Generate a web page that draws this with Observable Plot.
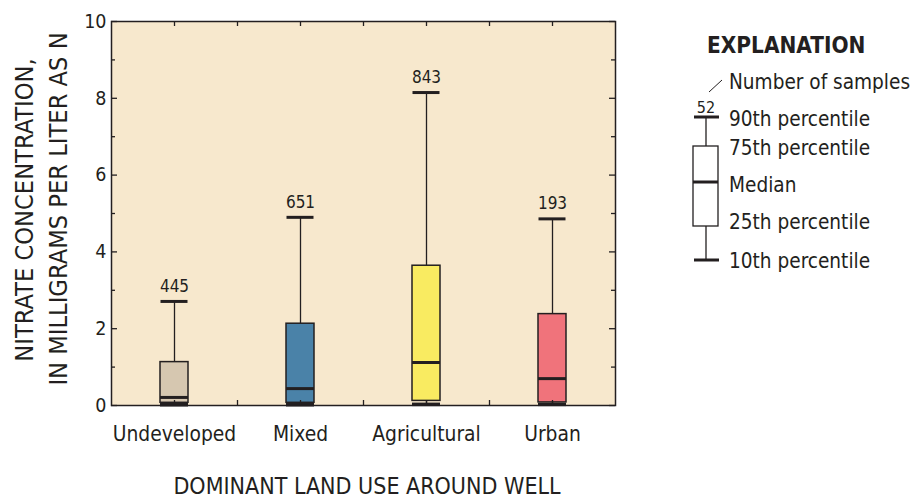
<!DOCTYPE html>
<html>
<head>
<meta charset="utf-8">
<script src="https://cdn.jsdelivr.net/npm/d3@7"></script>
<script src="https://cdn.jsdelivr.net/npm/@observablehq/plot@0.6"></script>
<style>
  html, body { margin: 0; padding: 0; background: #ffffff; }
  #chart svg { display: block; }
</style>
</head>
<body>
<div id="chart"></div>
<script>
// ---- Data ----
const categories = ["Undeveloped", "Mixed", "Agricultural", "Urban"];
const p10    = [0.02, 0.02, 0.03, 0.03];
const p25    = [0.07, 0.07, 0.12, 0.08];
const median = [0.21, 0.44, 1.12, 0.70];
const p75    = [1.13, 2.13, 3.64, 2.38];
const p90    = [2.71, 4.90, 8.15, 4.86];
const counts = [445, 651, 843, 193];
const boxColors = ["#D6C7B0", "#4A82A8", "#F9EB61", "#F0737B"];
const yMajorTicks = [0, 2, 4, 6, 8, 10];
const yMinorTicks = [1, 3, 5, 7, 9];
const legendLabels = ["Number of samples", "90th percentile", "75th percentile", "Median", "25th percentile", "10th percentile"];
const legendCount = "52";

const rows = categories.map((c, i) => ({
  cat: c, p10: p10[i], p25: p25[i], med: median[i], p75: p75[i], p90: p90[i], n: counts[i], color: boxColors[i]
}));

const W = 915, H = 499;
const mL = 111, mR = 300, mT = 21, mB = 94;
const innerW = W - mL - mR, innerH = H - mT - mB;
const band = innerW / categories.length;
const ink = "#231F20";
const FONT = "'DejaVu Sans Condensed', 'DejaVu Sans', sans-serif";
const boxInset = (band - 28) / 2;
const capInset = (band - 27) / 2;

const svg = Plot.plot({
  width: W, height: H,
  marginLeft: mL, marginRight: mR, marginTop: mT, marginBottom: mB,
  style: { fontFamily: FONT, background: "transparent", color: ink, overflow: "visible" },
  x: { domain: categories, padding: 0, label: null },
  y: { domain: [0, 10], label: null },
  color: { type: "identity" },
  marks: [
    Plot.frame({ fill: "#F7E8CD", stroke: "none" }),
    // whiskers
    Plot.ruleX(rows, { x: "cat", y1: "p75", y2: "p90", stroke: ink, strokeWidth: 1.3 }),
    Plot.ruleX(rows, { x: "cat", y1: "p10", y2: "p25", stroke: ink, strokeWidth: 1.3 }),
    // boxes
    Plot.barY(rows, { x: "cat", y1: "p25", y2: "p75", fill: "color", stroke: ink, strokeWidth: 1.5, insetLeft: boxInset, insetRight: boxInset }),
    // median
    Plot.tickY(rows, { x: "cat", y: "med", stroke: ink, strokeWidth: 3, insetLeft: boxInset, insetRight: boxInset }),
    // caps
    Plot.tickY(rows, { x: "cat", y: "p90", stroke: ink, strokeWidth: 3, insetLeft: capInset, insetRight: capInset }),
    Plot.tickY(rows, { x: "cat", y: "p10", stroke: ink, strokeWidth: 3.5, insetLeft: boxInset, insetRight: boxInset }),
    // counts
    Plot.text(rows, { x: "cat", y: "p90", text: d => String(d.n), dy: -15, fontSize: 17, fill: ink, fontFamily: FONT }),
    // x ticks (inward, top and bottom)
    Plot.tickX(categories, { x: d => d, insetTop: innerH - 5, stroke: ink, strokeWidth: 1.3 }),
    Plot.tickX(categories, { x: d => d, insetBottom: innerH - 5, stroke: ink, strokeWidth: 1.3 }),
    Plot.tickX(categories.slice(0, -1), { x: d => d, dx: band / 2, insetTop: innerH - 5, stroke: ink, strokeWidth: 1.3 }),
    Plot.tickX(categories.slice(0, -1), { x: d => d, dx: band / 2, insetBottom: innerH - 5, stroke: ink, strokeWidth: 1.3 }),
    // y ticks (inward, left and right)
    Plot.tickY(yMajorTicks, { y: d => d, insetRight: innerW - 6, stroke: ink, strokeWidth: 1.3 }),
    Plot.tickY(yMajorTicks, { y: d => d, insetLeft: innerW - 6, stroke: ink, strokeWidth: 1.3 }),
    Plot.tickY(yMinorTicks, { y: d => d, insetRight: innerW - 4, stroke: ink, strokeWidth: 1.3 }),
    Plot.tickY(yMinorTicks, { y: d => d, insetLeft: innerW - 4, stroke: ink, strokeWidth: 1.3 }),
    // axes labels
    Plot.axisX({ tickSize: 0, tickPadding: 21, fontSize: 20.8, label: null }),
    Plot.axisY({ ticks: yMajorTicks, tickSize: 0, tickPadding: 5, fontSize: 19.5, label: null, tickFormat: d => String(d) }),
    Plot.frame({ stroke: ink, strokeWidth: 1.5 })
  ]
});

document.getElementById("chart").appendChild(svg);

const s = d3.select(svg);

// y axis title (two lines)
const yT = s.append("g").attr("font-family", FONT).attr("font-size", 25.2).attr("fill", ink).attr("text-anchor", "middle");
yT.append("text").attr("transform", "translate(33,210) rotate(-90)").text("NITRATE CONCENTRATION,");
yT.append("text").attr("transform", "translate(67,209) rotate(-90)").text("IN MILLIGRAMS PER LITER AS N");

// x axis title
s.append("text").attr("x", 367).attr("y", 494).attr("text-anchor", "middle")
  .attr("font-family", FONT).attr("font-size", 23).attr("fill", ink)
  .text("DOMINANT LAND USE AROUND WELL");

// ---- Explanation (legend) ----
const lg = s.append("g").attr("font-family", FONT).attr("fill", ink).attr("text-anchor", "start");
lg.append("text").attr("x", 707).attr("y", 53).attr("font-size", 22.4).attr("font-weight", "bold").text("EXPLANATION");
lg.append("line").attr("x1", 709).attr("y1", 92).attr("x2", 722).attr("y2", 80).attr("stroke", ink).attr("stroke-width", 1);
lg.append("text").attr("x", 706).attr("y", 113).attr("text-anchor", "middle").attr("font-size", 16).text(legendCount);
lg.append("line").attr("x1", 706).attr("x2", 706).attr("y1", 117).attr("y2", 260).attr("stroke", ink).attr("stroke-width", 1.3);
lg.append("rect").attr("x", 693).attr("y", 146).attr("width", 25).attr("height", 80).attr("fill", "#fff").attr("stroke", ink).attr("stroke-width", 1.3);
lg.append("line").attr("x1", 693).attr("x2", 718).attr("y1", 182).attr("y2", 182).attr("stroke", ink).attr("stroke-width", 3);
lg.append("line").attr("x1", 694).attr("x2", 719).attr("y1", 117).attr("y2", 117).attr("stroke", ink).attr("stroke-width", 3);
lg.append("line").attr("x1", 694).attr("x2", 719).attr("y1", 260).attr("y2", 260).attr("stroke", ink).attr("stroke-width", 3);
const baselines = [89, 126, 155, 192, 229, 268];
legendLabels.forEach((t, i) => {
  lg.append("text").attr("x", 729).attr("y", baselines[i]).attr("font-size", 20.6).text(t);
});
</script>
</body>
</html>
